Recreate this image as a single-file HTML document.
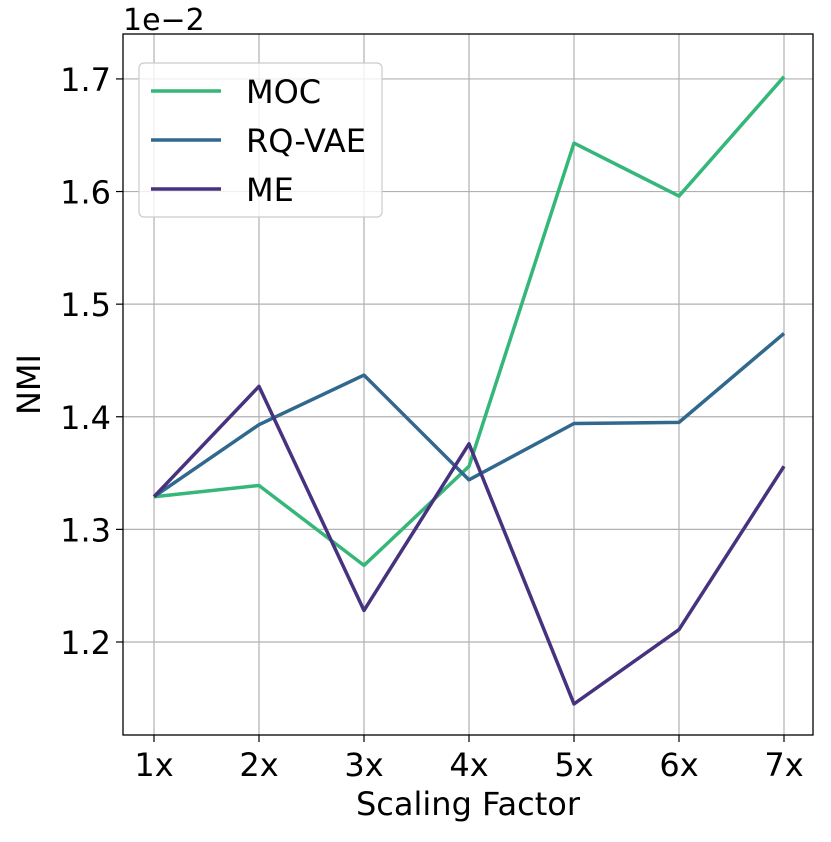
<!DOCTYPE html>
<html><head><meta charset="utf-8"><style>
body{margin:0;background:#fff}
svg{font-family:"DejaVu Sans","Liberation Sans",sans-serif}
</style></head><body>
<svg id="chart" width="831" height="837" xmlns="http://www.w3.org/2000/svg"></svg>
<script>
const categories=["1x","2x","3x","4x","5x","6x","7x"];
const mocValues=[1.329,1.339,1.268,1.356,1.643,1.596,1.702];
const rqvaeValues=[1.329,1.393,1.437,1.344,1.394,1.395,1.474];
const meValues=[1.329,1.427,1.228,1.376,1.145,1.211,1.356];
const yTicks=[1.2,1.3,1.4,1.5,1.6,1.7];
const seriesNames=["MOC","RQ-VAE","ME"];
const seriesColors=["#35b779","#31688e","#46327e"];
const svg=document.getElementById('chart');
const NS="http://www.w3.org/2000/svg";
const L=123,R=813,T=34,B=735;
const yMin=1.1174,yMax=1.7399;
const x=i=>154+i*(784-154)/(categories.length-1);
const y=v=>B-(v-yMin)/(yMax-yMin)*(B-T);
function mk(tag,attrs,parent){const e=document.createElementNS(NS,tag);for(const k in attrs)e.setAttribute(k,attrs[k]);(parent||svg).appendChild(e);return e;}
categories.forEach((c,i)=>{
 const g=mk('line',{x1:x(i),x2:x(i),y1:T,y2:B,stroke:'#b0b0b0','stroke-width':1.2});
 
 
 mk('line',{x1:x(i),x2:x(i),y1:B,y2:B+7,stroke:'#000','stroke-width':1.2});
 const t=mk('text',{x:x(i),y:B+41,'text-anchor':'middle','font-size':32});
 t.textContent=c;
 
 
});
yTicks.forEach(v=>{
 const g=mk('line',{x1:L,x2:R,y1:y(v),y2:y(v),stroke:'#b0b0b0','stroke-width':1.2});
 
 
 mk('line',{x1:L-7,x2:L,y1:y(v),y2:y(v),stroke:'#000','stroke-width':1.2});
 const t=mk('text',{x:L-12,y:y(v)+12,'text-anchor':'end','font-size':32});
 t.textContent=v.toFixed(1);
 
 
});
[mocValues,rqvaeValues,meValues].forEach((vals,s)=>{
 const p=mk('polyline',{points:vals.map((v,i)=>x(i)+','+y(v)).join(' '),fill:'none',stroke:seriesColors[s],'stroke-width':3.5,'stroke-linejoin':'round'});
 
 
});
const frame=mk('rect',{x:L,y:T,width:R-L,height:B-T,fill:'none',stroke:'#000','stroke-width':1.3});


const off=mk('text',{x:L,y:30,'font-size':30});
off.textContent='1e\u22122';


const yt=mk('text',{x:40,y:(T+B)/2,'text-anchor':'middle','font-size':32,transform:`rotate(-90 40 ${(T+B)/2})`});
yt.textContent='NMI';


const xt=mk('text',{x:(L+R)/2,y:815,'text-anchor':'middle','font-size':32});
xt.textContent='Scaling Factor';


const lg=mk('g',{});


mk('rect',{x:139,y:63,width:243,height:154,rx:5,fill:'#fff','fill-opacity':0.8,stroke:'#ccc','stroke-width':1.2},lg);
seriesNames.forEach((n,s)=>{
 const yy=91+s*49;
 const e=mk('g',{},lg);
 
 
 mk('line',{x1:151,x2:221,y1:yy,y2:yy,stroke:seriesColors[s],'stroke-width':3.5},e);
 const t=mk('text',{x:246,y:yy+12,'font-size':32},e);
 t.textContent=n;
});
</script>
</body></html>
